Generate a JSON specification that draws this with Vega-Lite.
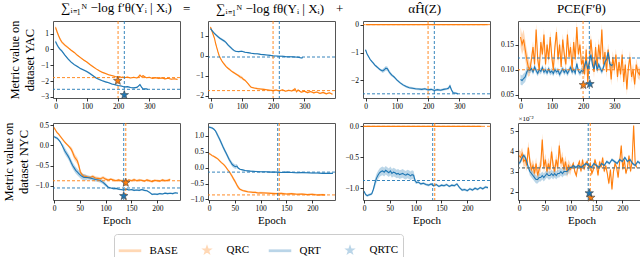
{
"$schema":"https://vega.github.io/schema/vega-lite/v6.json",
"background":"white",
"padding":{"left":2,"top":1,"right":0,"bottom":0},
"bounds":"flush",
"columns":4,
"spacing":{"row":25,"column":28},
"config":{
 "view":{"stroke":"#555","strokeWidth":1},
 "axis":{"labelFont":"Liberation Serif","labelFontSize":7.5,"labelColor":"#000","tickColor":"#000","tickSize":3,"tickWidth":0.8,"domain":false,"grid":false,"labelPadding":1.5,"labelOverlap":false,"labelBound":false,"titleFont":"Liberation Serif","titleFontWeight":"normal","titleColor":"#000"},
 "axisY":{"titleFontSize":12.5,"titlePadding":4,"titleFontWeight":"normal"},
 "axisX":{"titleFontSize":11,"titlePadding":2,"titleFontWeight":"normal"},
 "title":{"font":"Liberation Serif","fontSize":13,"fontWeight":"normal","color":"#000","offset":5,"frame":"group"}
},
"datasets":{
"d1":[
{"s":"BASE","e":0,"v":1.4,"l":1.26,"h":1.54},{"s":"BASE","e":5,"v":1.12,"l":1,"h":1.24},{"s":"BASE","e":10,"v":0.86,"l":0.74,"h":0.98},{"s":"BASE","e":15,"v":0.64,"l":0.54,"h":0.74},{"s":"BASE","e":20,"v":0.47,"l":0.37,"h":0.57},{"s":"BASE","e":30,"v":0.27,"l":0.2,"h":0.34},{"s":"BASE","e":40,"v":0.12,"l":0.06,"h":0.18},{"s":"BASE","e":50,"v":-0.05,"l":-0.1,"h":0},{"s":"BASE","e":60,"v":-0.19,"l":-0.24,"h":-0.14},{"s":"BASE","e":70,"v":-0.37,"l":-0.42,"h":-0.32},{"s":"BASE","e":80,"v":-0.52,"l":-0.57,"h":-0.47},{"s":"BASE","e":90,"v":-0.67,"l":-0.72,"h":-0.62},{"s":"BASE","e":100,"v":-0.79,"l":-0.83,"h":-0.75},{"s":"BASE","e":110,"v":-0.95,"l":-0.99,"h":-0.91},{"s":"BASE","e":120,"v":-1.09,"l":-1.13,"h":-1.05},{"s":"BASE","e":130,"v":-1.23,"l":-1.27,"h":-1.19},{"s":"BASE","e":140,"v":-1.35,"l":-1.39,"h":-1.31},{"s":"BASE","e":150,"v":-1.45,"l":-1.49,"h":-1.41},{"s":"BASE","e":160,"v":-1.52,"l":-1.56,"h":-1.48},{"s":"BASE","e":170,"v":-1.6,"l":-1.64,"h":-1.56},{"s":"BASE","e":180,"v":-1.65,"l":-1.69,"h":-1.61},{"s":"BASE","e":190,"v":-1.71,"l":-1.75,"h":-1.67},{"s":"BASE","e":200,"v":-1.75,"l":-1.79,"h":-1.71},{"s":"BASE","e":205,"v":-1.72,"l":-1.76,"h":-1.68},{"s":"BASE","e":210,"v":-1.77,"l":-1.81,"h":-1.73},{"s":"BASE","e":215,"v":-1.74,"l":-1.78,"h":-1.7},{"s":"BASE","e":220,"v":-1.79,"l":-1.83,"h":-1.75},{"s":"BASE","e":230,"v":-1.75,"l":-1.79,"h":-1.71},{"s":"BASE","e":240,"v":-1.8,"l":-1.84,"h":-1.76},{"s":"BASE","e":250,"v":-1.76,"l":-1.8,"h":-1.72},{"s":"BASE","e":260,"v":-1.8,"l":-1.84,"h":-1.76},{"s":"BASE","e":265,"v":-1.74,"l":-1.78,"h":-1.7},{"s":"BASE","e":270,"v":-1.62,"l":-1.68,"h":-1.56},{"s":"BASE","e":275,"v":-1.73,"l":-1.78,"h":-1.68},{"s":"BASE","e":280,"v":-1.66,"l":-1.71,"h":-1.61},{"s":"BASE","e":290,"v":-1.79,"l":-1.83,"h":-1.75},{"s":"BASE","e":300,"v":-1.76,"l":-1.8,"h":-1.72},{"s":"BASE","e":310,"v":-1.83,"l":-1.87,"h":-1.79},{"s":"BASE","e":320,"v":-1.78,"l":-1.82,"h":-1.74},{"s":"BASE","e":330,"v":-1.84,"l":-1.88,"h":-1.8},{"s":"BASE","e":340,"v":-1.8,"l":-1.84,"h":-1.76},{"s":"BASE","e":350,"v":-1.86,"l":-1.9,"h":-1.82},{"s":"BASE","e":360,"v":-1.82,"l":-1.86,"h":-1.78},{"s":"BASE","e":370,"v":-1.88,"l":-1.92,"h":-1.84},{"s":"BASE","e":380,"v":-1.85,"l":-1.89,"h":-1.81},{"s":"BASE","e":390,"v":-1.9,"l":-1.94,"h":-1.86},
{"s":"QRT","e":0,"v":0.5,"l":0.4,"h":0.6},{"s":"QRT","e":5,"v":0.3,"l":0.2,"h":0.4},{"s":"QRT","e":10,"v":0.13,"l":0.05,"h":0.21},{"s":"QRT","e":15,"v":0,"l":-0.08,"h":0.08},{"s":"QRT","e":20,"v":-0.09,"l":-0.16,"h":-0.02},{"s":"QRT","e":30,"v":-0.36,"l":-0.42,"h":-0.3},{"s":"QRT","e":40,"v":-0.6,"l":-0.66,"h":-0.54},{"s":"QRT","e":50,"v":-0.8,"l":-0.85,"h":-0.75},{"s":"QRT","e":60,"v":-0.96,"l":-1.01,"h":-0.91},{"s":"QRT","e":70,"v":-1.08,"l":-1.13,"h":-1.03},{"s":"QRT","e":80,"v":-1.21,"l":-1.26,"h":-1.16},{"s":"QRT","e":90,"v":-1.3,"l":-1.35,"h":-1.25},{"s":"QRT","e":100,"v":-1.4,"l":-1.46,"h":-1.34},{"s":"QRT","e":110,"v":-1.52,"l":-1.58,"h":-1.46},{"s":"QRT","e":120,"v":-1.66,"l":-1.71,"h":-1.61},{"s":"QRT","e":130,"v":-1.8,"l":-1.85,"h":-1.75},{"s":"QRT","e":140,"v":-1.9,"l":-1.94,"h":-1.86},{"s":"QRT","e":150,"v":-1.98,"l":-2.02,"h":-1.94},{"s":"QRT","e":160,"v":-2.05,"l":-2.09,"h":-2.01},{"s":"QRT","e":170,"v":-2.1,"l":-2.14,"h":-2.06},{"s":"QRT","e":180,"v":-2.18,"l":-2.22,"h":-2.14},{"s":"QRT","e":190,"v":-2.23,"l":-2.27,"h":-2.19},{"s":"QRT","e":200,"v":-2.28,"l":-2.32,"h":-2.24},{"s":"QRT","e":210,"v":-2.31,"l":-2.35,"h":-2.27},{"s":"QRT","e":220,"v":-2.37,"l":-2.41,"h":-2.33},{"s":"QRT","e":230,"v":-2.35,"l":-2.39,"h":-2.31},{"s":"QRT","e":240,"v":-2.41,"l":-2.45,"h":-2.37},{"s":"QRT","e":250,"v":-2.43,"l":-2.47,"h":-2.39},{"s":"QRT","e":260,"v":-2.4,"l":-2.44,"h":-2.36},{"s":"QRT","e":265,"v":-2.32,"l":-2.37,"h":-2.27},{"s":"QRT","e":270,"v":-2.22,"l":-2.28,"h":-2.16},{"s":"QRT","e":275,"v":-2.38,"l":-2.43,"h":-2.33},{"s":"QRT","e":280,"v":-2.5,"l":-2.54,"h":-2.46},{"s":"QRT","e":290,"v":-2.49,"l":-2.53,"h":-2.45},{"s":"QRT","e":295,"v":-2.53,"l":-2.57,"h":-2.49}
],
"d2":[
{"s":"BASE","e":0,"v":1.43,"l":1.37,"h":1.49},{"s":"BASE","e":3,"v":1.3,"l":1.24,"h":1.36},{"s":"BASE","e":6,"v":1.16,"l":1.1,"h":1.22},{"s":"BASE","e":10,"v":0.98,"l":0.92,"h":1.04},{"s":"BASE","e":13,"v":0.85,"l":0.79,"h":0.91},{"s":"BASE","e":16,"v":0.63,"l":0.57,"h":0.69},{"s":"BASE","e":20,"v":0.4,"l":0.34,"h":0.46},{"s":"BASE","e":24,"v":0.18,"l":0.12,"h":0.24},{"s":"BASE","e":28,"v":-0.02,"l":-0.08,"h":0.04},{"s":"BASE","e":32,"v":-0.15,"l":-0.21,"h":-0.09},{"s":"BASE","e":36,"v":-0.26,"l":-0.31,"h":-0.21},{"s":"BASE","e":40,"v":-0.35,"l":-0.4,"h":-0.3},{"s":"BASE","e":45,"v":-0.45,"l":-0.5,"h":-0.4},{"s":"BASE","e":50,"v":-0.55,"l":-0.6,"h":-0.5},{"s":"BASE","e":55,"v":-0.62,"l":-0.67,"h":-0.57},{"s":"BASE","e":60,"v":-0.68,"l":-0.73,"h":-0.63},{"s":"BASE","e":65,"v":-0.75,"l":-0.8,"h":-0.7},{"s":"BASE","e":70,"v":-0.81,"l":-0.86,"h":-0.76},{"s":"BASE","e":75,"v":-0.86,"l":-0.91,"h":-0.81},{"s":"BASE","e":80,"v":-0.91,"l":-0.96,"h":-0.86},{"s":"BASE","e":85,"v":-0.96,"l":-1.01,"h":-0.91},{"s":"BASE","e":90,"v":-1.01,"l":-1.07,"h":-0.95},{"s":"BASE","e":95,"v":-1.07,"l":-1.15,"h":-0.99},{"s":"BASE","e":100,"v":-1.1,"l":-1.18,"h":-1.02},{"s":"BASE","e":105,"v":-1.18,"l":-1.24,"h":-1.12},{"s":"BASE","e":110,"v":-1.23,"l":-1.28,"h":-1.18},{"s":"BASE","e":115,"v":-1.31,"l":-1.35,"h":-1.27},{"s":"BASE","e":120,"v":-1.4,"l":-1.44,"h":-1.36},{"s":"BASE","e":125,"v":-1.5,"l":-1.54,"h":-1.46},{"s":"BASE","e":130,"v":-1.58,"l":-1.62,"h":-1.54},{"s":"BASE","e":140,"v":-1.62,"l":-1.66,"h":-1.58},{"s":"BASE","e":150,"v":-1.65,"l":-1.69,"h":-1.61},{"s":"BASE","e":160,"v":-1.67,"l":-1.71,"h":-1.63},{"s":"BASE","e":170,"v":-1.69,"l":-1.73,"h":-1.65},{"s":"BASE","e":180,"v":-1.71,"l":-1.75,"h":-1.67},{"s":"BASE","e":190,"v":-1.73,"l":-1.77,"h":-1.69},{"s":"BASE","e":200,"v":-1.75,"l":-1.79,"h":-1.71},{"s":"BASE","e":210,"v":-1.72,"l":-1.76,"h":-1.68},{"s":"BASE","e":220,"v":-1.77,"l":-1.81,"h":-1.73},{"s":"BASE","e":230,"v":-1.71,"l":-1.75,"h":-1.67},{"s":"BASE","e":240,"v":-1.78,"l":-1.82,"h":-1.74},{"s":"BASE","e":250,"v":-1.73,"l":-1.77,"h":-1.69},{"s":"BASE","e":260,"v":-1.77,"l":-1.81,"h":-1.73},{"s":"BASE","e":270,"v":-1.66,"l":-1.72,"h":-1.6},{"s":"BASE","e":275,"v":-1.81,"l":-1.86,"h":-1.76},{"s":"BASE","e":280,"v":-1.72,"l":-1.76,"h":-1.68},{"s":"BASE","e":290,"v":-1.83,"l":-1.87,"h":-1.79},{"s":"BASE","e":300,"v":-1.78,"l":-1.82,"h":-1.74},{"s":"BASE","e":310,"v":-1.85,"l":-1.89,"h":-1.81},{"s":"BASE","e":320,"v":-1.8,"l":-1.84,"h":-1.76},{"s":"BASE","e":330,"v":-1.86,"l":-1.9,"h":-1.82},{"s":"BASE","e":340,"v":-1.82,"l":-1.86,"h":-1.78},{"s":"BASE","e":350,"v":-1.89,"l":-1.93,"h":-1.85},{"s":"BASE","e":360,"v":-1.84,"l":-1.88,"h":-1.8},{"s":"BASE","e":370,"v":-1.91,"l":-1.95,"h":-1.87},{"s":"BASE","e":380,"v":-1.86,"l":-1.9,"h":-1.82},{"s":"BASE","e":390,"v":-1.93,"l":-1.97,"h":-1.89},
{"s":"QRT","e":0,"v":1.35,"l":1.29,"h":1.41},{"s":"QRT","e":5,"v":1.25,"l":1.19,"h":1.31},{"s":"QRT","e":10,"v":1.15,"l":1.09,"h":1.21},{"s":"QRT","e":15,"v":1.07,"l":1.01,"h":1.13},{"s":"QRT","e":20,"v":1,"l":0.94,"h":1.06},{"s":"QRT","e":25,"v":0.93,"l":0.87,"h":0.99},{"s":"QRT","e":30,"v":0.87,"l":0.81,"h":0.93},{"s":"QRT","e":35,"v":0.82,"l":0.76,"h":0.88},{"s":"QRT","e":40,"v":0.77,"l":0.71,"h":0.83},{"s":"QRT","e":45,"v":0.72,"l":0.66,"h":0.78},{"s":"QRT","e":50,"v":0.65,"l":0.59,"h":0.71},{"s":"QRT","e":55,"v":0.55,"l":0.49,"h":0.61},{"s":"QRT","e":60,"v":0.47,"l":0.41,"h":0.53},{"s":"QRT","e":65,"v":0.4,"l":0.34,"h":0.46},{"s":"QRT","e":70,"v":0.32,"l":0.26,"h":0.38},{"s":"QRT","e":75,"v":0.26,"l":0.21,"h":0.31},{"s":"QRT","e":80,"v":0.22,"l":0.18,"h":0.26},{"s":"QRT","e":90,"v":0.2,"l":0.17,"h":0.23},{"s":"QRT","e":100,"v":0.22,"l":0.19,"h":0.25},{"s":"QRT","e":110,"v":0.17,"l":0.14,"h":0.2},{"s":"QRT","e":120,"v":0.15,"l":0.12,"h":0.18},{"s":"QRT","e":130,"v":0.12,"l":0.09,"h":0.15},{"s":"QRT","e":140,"v":0.1,"l":0.07,"h":0.13},{"s":"QRT","e":150,"v":0.09,"l":0.06,"h":0.12},{"s":"QRT","e":160,"v":0.06,"l":0.03,"h":0.09},{"s":"QRT","e":170,"v":0.05,"l":0.02,"h":0.08},{"s":"QRT","e":180,"v":0.03,"l":0,"h":0.06},{"s":"QRT","e":190,"v":0.01,"l":-0.02,"h":0.04},{"s":"QRT","e":200,"v":-0.01,"l":-0.04,"h":0.02},{"s":"QRT","e":210,"v":-0.02,"l":-0.05,"h":0.01},{"s":"QRT","e":220,"v":-0.03,"l":-0.06,"h":0},{"s":"QRT","e":230,"v":-0.03,"l":-0.06,"h":0},{"s":"QRT","e":240,"v":-0.05,"l":-0.08,"h":-0.02},{"s":"QRT","e":250,"v":-0.06,"l":-0.09,"h":-0.03},{"s":"QRT","e":260,"v":-0.06,"l":-0.09,"h":-0.03},{"s":"QRT","e":270,"v":-0.07,"l":-0.1,"h":-0.04},{"s":"QRT","e":280,"v":-0.08,"l":-0.11,"h":-0.05},{"s":"QRT","e":290,"v":-0.12,"l":-0.15,"h":-0.09},{"s":"QRT","e":295,"v":-0.1,"l":-0.13,"h":-0.07}
],
"d3":[
{"s":"BASE","e":0,"v":0,"l":0,"h":0},{"s":"BASE","e":390,"v":0,"l":0,"h":0},
{"s":"QRT","e":0,"v":-0.9,"l":-0.94,"h":-0.86},{"s":"QRT","e":5,"v":-1.05,"l":-1.09,"h":-1.01},{"s":"QRT","e":10,"v":-1.15,"l":-1.19,"h":-1.11},{"s":"QRT","e":15,"v":-1.25,"l":-1.29,"h":-1.21},{"s":"QRT","e":20,"v":-1.32,"l":-1.36,"h":-1.28},{"s":"QRT","e":25,"v":-1.38,"l":-1.42,"h":-1.34},{"s":"QRT","e":30,"v":-1.45,"l":-1.49,"h":-1.41},{"s":"QRT","e":35,"v":-1.5,"l":-1.54,"h":-1.46},{"s":"QRT","e":40,"v":-1.55,"l":-1.59,"h":-1.51},{"s":"QRT","e":45,"v":-1.6,"l":-1.64,"h":-1.56},{"s":"QRT","e":50,"v":-1.64,"l":-1.69,"h":-1.59},{"s":"QRT","e":55,"v":-1.66,"l":-1.73,"h":-1.59},{"s":"QRT","e":60,"v":-1.62,"l":-1.7,"h":-1.54},{"s":"QRT","e":65,"v":-1.56,"l":-1.64,"h":-1.48},{"s":"QRT","e":70,"v":-1.58,"l":-1.66,"h":-1.5},{"s":"QRT","e":75,"v":-1.68,"l":-1.75,"h":-1.61},{"s":"QRT","e":80,"v":-1.76,"l":-1.82,"h":-1.7},{"s":"QRT","e":85,"v":-1.82,"l":-1.87,"h":-1.77},{"s":"QRT","e":90,"v":-1.86,"l":-1.9,"h":-1.82},{"s":"QRT","e":95,"v":-1.92,"l":-1.96,"h":-1.88},{"s":"QRT","e":100,"v":-1.98,"l":-2.02,"h":-1.94},{"s":"QRT","e":110,"v":-2.08,"l":-2.12,"h":-2.04},{"s":"QRT","e":120,"v":-2.16,"l":-2.2,"h":-2.12},{"s":"QRT","e":130,"v":-2.22,"l":-2.26,"h":-2.18},{"s":"QRT","e":140,"v":-2.26,"l":-2.3,"h":-2.22},{"s":"QRT","e":150,"v":-2.28,"l":-2.32,"h":-2.24},{"s":"QRT","e":160,"v":-2.3,"l":-2.34,"h":-2.26},{"s":"QRT","e":170,"v":-2.31,"l":-2.35,"h":-2.27},{"s":"QRT","e":180,"v":-2.32,"l":-2.36,"h":-2.28},{"s":"QRT","e":190,"v":-2.3,"l":-2.34,"h":-2.26},{"s":"QRT","e":200,"v":-2.34,"l":-2.38,"h":-2.3},{"s":"QRT","e":210,"v":-2.32,"l":-2.36,"h":-2.28},{"s":"QRT","e":220,"v":-2.36,"l":-2.4,"h":-2.32},{"s":"QRT","e":230,"v":-2.33,"l":-2.37,"h":-2.29},{"s":"QRT","e":240,"v":-2.35,"l":-2.39,"h":-2.31},{"s":"QRT","e":250,"v":-2.32,"l":-2.36,"h":-2.28},{"s":"QRT","e":260,"v":-2.3,"l":-2.34,"h":-2.26},{"s":"QRT","e":265,"v":-2.28,"l":-2.33,"h":-2.23},{"s":"QRT","e":270,"v":-2.2,"l":-2.27,"h":-2.13},{"s":"QRT","e":275,"v":-2.34,"l":-2.39,"h":-2.29},{"s":"QRT","e":280,"v":-2.44,"l":-2.48,"h":-2.4},{"s":"QRT","e":290,"v":-2.46,"l":-2.5,"h":-2.42},{"s":"QRT","e":295,"v":-2.48,"l":-2.52,"h":-2.44}
],
"d4":[
{"s":"BASE","e":0,"v":0.165,"l":0.145,"h":0.185},{"s":"BASE","e":5,"v":0.15,"l":0.13,"h":0.17},{"s":"BASE","e":10,"v":0.16,"l":0.14,"h":0.18},{"s":"BASE","e":15,"v":0.14,"l":0.12,"h":0.16},{"s":"BASE","e":20,"v":0.12,"l":0.1,"h":0.14},{"s":"BASE","e":25,"v":0.105,"l":0.085,"h":0.125},{"s":"BASE","e":30,"v":0.1,"l":0.088,"h":0.112},{"s":"BASE","e":35,"v":0.12,"l":0.108,"h":0.132},{"s":"BASE","e":40,"v":0.145,"l":0.133,"h":0.157},{"s":"BASE","e":45,"v":0.11,"l":0.098,"h":0.122},{"s":"BASE","e":50,"v":0.18,"l":0.168,"h":0.192},{"s":"BASE","e":55,"v":0.12,"l":0.108,"h":0.132},{"s":"BASE","e":60,"v":0.1,"l":0.088,"h":0.112},{"s":"BASE","e":65,"v":0.155,"l":0.143,"h":0.167},{"s":"BASE","e":70,"v":0.13,"l":0.118,"h":0.142},{"s":"BASE","e":75,"v":0.17,"l":0.158,"h":0.182},{"s":"BASE","e":80,"v":0.11,"l":0.098,"h":0.122},{"s":"BASE","e":85,"v":0.15,"l":0.138,"h":0.162},{"s":"BASE","e":90,"v":0.12,"l":0.108,"h":0.132},{"s":"BASE","e":95,"v":0.165,"l":0.153,"h":0.177},{"s":"BASE","e":100,"v":0.125,"l":0.113,"h":0.137},{"s":"BASE","e":105,"v":0.1,"l":0.088,"h":0.112},{"s":"BASE","e":110,"v":0.145,"l":0.133,"h":0.157},{"s":"BASE","e":115,"v":0.175,"l":0.163,"h":0.187},{"s":"BASE","e":120,"v":0.12,"l":0.108,"h":0.132},{"s":"BASE","e":125,"v":0.15,"l":0.138,"h":0.162},{"s":"BASE","e":130,"v":0.105,"l":0.093,"h":0.117},{"s":"BASE","e":135,"v":0.16,"l":0.148,"h":0.172},{"s":"BASE","e":140,"v":0.13,"l":0.118,"h":0.142},{"s":"BASE","e":145,"v":0.11,"l":0.098,"h":0.122},{"s":"BASE","e":150,"v":0.17,"l":0.158,"h":0.182},{"s":"BASE","e":155,"v":0.125,"l":0.113,"h":0.137},{"s":"BASE","e":160,"v":0.145,"l":0.133,"h":0.157},{"s":"BASE","e":165,"v":0.1,"l":0.088,"h":0.112},{"s":"BASE","e":170,"v":0.155,"l":0.143,"h":0.167},{"s":"BASE","e":175,"v":0.12,"l":0.108,"h":0.132},{"s":"BASE","e":180,"v":0.185,"l":0.173,"h":0.197},{"s":"BASE","e":185,"v":0.13,"l":0.118,"h":0.142},{"s":"BASE","e":190,"v":0.15,"l":0.138,"h":0.162},{"s":"BASE","e":195,"v":0.11,"l":0.098,"h":0.122},{"s":"BASE","e":200,"v":0.12,"l":0.108,"h":0.132},{"s":"BASE","e":205,"v":0.09,"l":0.078,"h":0.102},{"s":"BASE","e":210,"v":0.14,"l":0.128,"h":0.152},{"s":"BASE","e":215,"v":0.075,"l":0.063,"h":0.087},{"s":"BASE","e":220,"v":0.115,"l":0.103,"h":0.127},{"s":"BASE","e":225,"v":0.16,"l":0.148,"h":0.172},{"s":"BASE","e":230,"v":0.125,"l":0.113,"h":0.137},{"s":"BASE","e":235,"v":0.095,"l":0.083,"h":0.107},{"s":"BASE","e":240,"v":0.145,"l":0.133,"h":0.157},{"s":"BASE","e":245,"v":0.105,"l":0.093,"h":0.117},{"s":"BASE","e":250,"v":0.15,"l":0.138,"h":0.162},{"s":"BASE","e":255,"v":0.12,"l":0.108,"h":0.132},{"s":"BASE","e":260,"v":0.18,"l":0.168,"h":0.192},{"s":"BASE","e":265,"v":0.11,"l":0.098,"h":0.122},{"s":"BASE","e":270,"v":0.135,"l":0.123,"h":0.147},{"s":"BASE","e":275,"v":0.095,"l":0.083,"h":0.107},{"s":"BASE","e":280,"v":0.14,"l":0.128,"h":0.152},{"s":"BASE","e":285,"v":0.115,"l":0.103,"h":0.127},{"s":"BASE","e":290,"v":0.08,"l":0.068,"h":0.092},{"s":"BASE","e":295,"v":0.125,"l":0.113,"h":0.137},{"s":"BASE","e":300,"v":0.1,"l":0.088,"h":0.112},{"s":"BASE","e":305,"v":0.13,"l":0.118,"h":0.142},{"s":"BASE","e":310,"v":0.085,"l":0.073,"h":0.097},{"s":"BASE","e":315,"v":0.115,"l":0.103,"h":0.127},{"s":"BASE","e":320,"v":0.09,"l":0.078,"h":0.102},{"s":"BASE","e":325,"v":0.13,"l":0.118,"h":0.142},{"s":"BASE","e":330,"v":0.075,"l":0.063,"h":0.087},{"s":"BASE","e":335,"v":0.11,"l":0.098,"h":0.122},{"s":"BASE","e":340,"v":0.06,"l":0.048,"h":0.072},{"s":"BASE","e":345,"v":0.105,"l":0.093,"h":0.117},{"s":"BASE","e":350,"v":0.125,"l":0.113,"h":0.137},{"s":"BASE","e":355,"v":0.085,"l":0.073,"h":0.097},{"s":"BASE","e":360,"v":0.1,"l":0.088,"h":0.112},{"s":"BASE","e":365,"v":0.07,"l":0.058,"h":0.082},{"s":"BASE","e":370,"v":0.11,"l":0.098,"h":0.122},{"s":"BASE","e":375,"v":0.095,"l":0.083,"h":0.107},{"s":"BASE","e":380,"v":0.09,"l":0.078,"h":0.102},{"s":"BASE","e":385,"v":0.105,"l":0.093,"h":0.117},{"s":"BASE","e":390,"v":0.095,"l":0.083,"h":0.107},
{"s":"QRT","e":0,"v":0.08,"l":0.07,"h":0.09},{"s":"QRT","e":5,"v":0.078,"l":0.068,"h":0.088},{"s":"QRT","e":10,"v":0.082,"l":0.072,"h":0.092},{"s":"QRT","e":15,"v":0.085,"l":0.075,"h":0.095},{"s":"QRT","e":20,"v":0.095,"l":0.085,"h":0.105},{"s":"QRT","e":25,"v":0.1,"l":0.094,"h":0.106},{"s":"QRT","e":30,"v":0.098,"l":0.092,"h":0.104},{"s":"QRT","e":35,"v":0.102,"l":0.096,"h":0.108},{"s":"QRT","e":40,"v":0.095,"l":0.089,"h":0.101},{"s":"QRT","e":45,"v":0.105,"l":0.099,"h":0.111},{"s":"QRT","e":50,"v":0.098,"l":0.092,"h":0.104},{"s":"QRT","e":55,"v":0.092,"l":0.086,"h":0.098},{"s":"QRT","e":60,"v":0.1,"l":0.094,"h":0.106},{"s":"QRT","e":65,"v":0.096,"l":0.09,"h":0.102},{"s":"QRT","e":70,"v":0.104,"l":0.098,"h":0.11},{"s":"QRT","e":75,"v":0.095,"l":0.089,"h":0.101},{"s":"QRT","e":80,"v":0.099,"l":0.093,"h":0.105},{"s":"QRT","e":85,"v":0.093,"l":0.087,"h":0.099},{"s":"QRT","e":90,"v":0.101,"l":0.095,"h":0.107},{"s":"QRT","e":95,"v":0.094,"l":0.088,"h":0.1},{"s":"QRT","e":100,"v":0.097,"l":0.091,"h":0.103},{"s":"QRT","e":105,"v":0.092,"l":0.086,"h":0.098},{"s":"QRT","e":110,"v":0.1,"l":0.094,"h":0.106},{"s":"QRT","e":115,"v":0.095,"l":0.089,"h":0.101},{"s":"QRT","e":120,"v":0.098,"l":0.092,"h":0.104},{"s":"QRT","e":125,"v":0.09,"l":0.084,"h":0.096},{"s":"QRT","e":130,"v":0.096,"l":0.09,"h":0.102},{"s":"QRT","e":135,"v":0.101,"l":0.095,"h":0.107},{"s":"QRT","e":140,"v":0.094,"l":0.088,"h":0.1},{"s":"QRT","e":145,"v":0.099,"l":0.093,"h":0.105},{"s":"QRT","e":150,"v":0.092,"l":0.086,"h":0.098},{"s":"QRT","e":155,"v":0.098,"l":0.092,"h":0.104},{"s":"QRT","e":160,"v":0.104,"l":0.098,"h":0.11},{"s":"QRT","e":165,"v":0.095,"l":0.089,"h":0.101},{"s":"QRT","e":170,"v":0.1,"l":0.094,"h":0.106},{"s":"QRT","e":175,"v":0.093,"l":0.087,"h":0.099},{"s":"QRT","e":180,"v":0.112,"l":0.106,"h":0.118},{"s":"QRT","e":185,"v":0.097,"l":0.091,"h":0.103},{"s":"QRT","e":190,"v":0.093,"l":0.087,"h":0.099},{"s":"QRT","e":195,"v":0.098,"l":0.092,"h":0.104},{"s":"QRT","e":200,"v":0.095,"l":0.089,"h":0.101},{"s":"QRT","e":205,"v":0.108,"l":0.102,"h":0.114},{"s":"QRT","e":210,"v":0.118,"l":0.112,"h":0.124},{"s":"QRT","e":215,"v":0.1,"l":0.094,"h":0.106},{"s":"QRT","e":220,"v":0.113,"l":0.107,"h":0.119},{"s":"QRT","e":225,"v":0.13,"l":0.124,"h":0.136},{"s":"QRT","e":230,"v":0.11,"l":0.104,"h":0.116},{"s":"QRT","e":235,"v":0.1,"l":0.094,"h":0.106},{"s":"QRT","e":240,"v":0.118,"l":0.112,"h":0.124},{"s":"QRT","e":245,"v":0.098,"l":0.092,"h":0.104},{"s":"QRT","e":250,"v":0.11,"l":0.104,"h":0.116},{"s":"QRT","e":255,"v":0.102,"l":0.096,"h":0.108},{"s":"QRT","e":260,"v":0.096,"l":0.09,"h":0.102},{"s":"QRT","e":265,"v":0.104,"l":0.098,"h":0.11},{"s":"QRT","e":270,"v":0.115,"l":0.109,"h":0.121},{"s":"QRT","e":275,"v":0.12,"l":0.114,"h":0.126},{"s":"QRT","e":280,"v":0.135,"l":0.129,"h":0.141},{"s":"QRT","e":285,"v":0.112,"l":0.106,"h":0.118},{"s":"QRT","e":290,"v":0.108,"l":0.102,"h":0.114},{"s":"QRT","e":295,"v":0.11,"l":0.104,"h":0.116}
],
"d5":[
{"s":"BASE","e":0,"v":0.45,"l":0.42,"h":0.48},{"s":"BASE","e":3,"v":0.38,"l":0.35,"h":0.41},{"s":"BASE","e":6,"v":0.32,"l":0.29,"h":0.35},{"s":"BASE","e":9,"v":0.28,"l":0.25,"h":0.31},{"s":"BASE","e":12,"v":0.23,"l":0.2,"h":0.26},{"s":"BASE","e":15,"v":0.18,"l":0.15,"h":0.21},{"s":"BASE","e":18,"v":0.13,"l":0.1,"h":0.16},{"s":"BASE","e":21,"v":0.08,"l":0.05,"h":0.11},{"s":"BASE","e":24,"v":0.04,"l":0.01,"h":0.07},{"s":"BASE","e":27,"v":0,"l":-0.03,"h":0.03},{"s":"BASE","e":30,"v":-0.04,"l":-0.07,"h":-0.01},{"s":"BASE","e":33,"v":-0.09,"l":-0.15,"h":-0.03},{"s":"BASE","e":36,"v":-0.17,"l":-0.25,"h":-0.09},{"s":"BASE","e":39,"v":-0.27,"l":-0.35,"h":-0.19},{"s":"BASE","e":42,"v":-0.33,"l":-0.41,"h":-0.25},{"s":"BASE","e":45,"v":-0.38,"l":-0.46,"h":-0.3},{"s":"BASE","e":48,"v":-0.5,"l":-0.58,"h":-0.42},{"s":"BASE","e":51,"v":-0.66,"l":-0.72,"h":-0.6},{"s":"BASE","e":54,"v":-0.72,"l":-0.76,"h":-0.68},{"s":"BASE","e":57,"v":-0.76,"l":-0.8,"h":-0.72},{"s":"BASE","e":60,"v":-0.77,"l":-0.81,"h":-0.73},{"s":"BASE","e":65,"v":-0.79,"l":-0.83,"h":-0.75},{"s":"BASE","e":70,"v":-0.8,"l":-0.84,"h":-0.76},{"s":"BASE","e":75,"v":-0.77,"l":-0.81,"h":-0.73},{"s":"BASE","e":80,"v":-0.81,"l":-0.85,"h":-0.77},{"s":"BASE","e":85,"v":-0.82,"l":-0.86,"h":-0.78},{"s":"BASE","e":90,"v":-0.83,"l":-0.87,"h":-0.79},{"s":"BASE","e":95,"v":-0.8,"l":-0.84,"h":-0.76},{"s":"BASE","e":100,"v":-0.84,"l":-0.88,"h":-0.8},{"s":"BASE","e":105,"v":-0.86,"l":-0.89,"h":-0.83},{"s":"BASE","e":110,"v":-0.84,"l":-0.87,"h":-0.81},{"s":"BASE","e":115,"v":-0.86,"l":-0.89,"h":-0.83},{"s":"BASE","e":120,"v":-0.88,"l":-0.91,"h":-0.85},{"s":"BASE","e":125,"v":-0.86,"l":-0.89,"h":-0.83},{"s":"BASE","e":130,"v":-0.88,"l":-0.91,"h":-0.85},{"s":"BASE","e":135,"v":-0.87,"l":-0.9,"h":-0.84},{"s":"BASE","e":140,"v":-0.9,"l":-0.93,"h":-0.87},{"s":"BASE","e":145,"v":-0.86,"l":-0.89,"h":-0.83},{"s":"BASE","e":150,"v":-0.88,"l":-0.91,"h":-0.85},{"s":"BASE","e":155,"v":-0.85,"l":-0.88,"h":-0.82},{"s":"BASE","e":160,"v":-0.88,"l":-0.91,"h":-0.85},{"s":"BASE","e":165,"v":-0.86,"l":-0.89,"h":-0.83},{"s":"BASE","e":170,"v":-0.87,"l":-0.9,"h":-0.84},{"s":"BASE","e":175,"v":-0.89,"l":-0.92,"h":-0.86},{"s":"BASE","e":180,"v":-0.86,"l":-0.89,"h":-0.83},{"s":"BASE","e":185,"v":-0.88,"l":-0.91,"h":-0.85},{"s":"BASE","e":190,"v":-0.9,"l":-0.93,"h":-0.87},{"s":"BASE","e":195,"v":-0.87,"l":-0.9,"h":-0.84},{"s":"BASE","e":200,"v":-0.88,"l":-0.91,"h":-0.85},{"s":"BASE","e":205,"v":-0.89,"l":-0.92,"h":-0.86},{"s":"BASE","e":210,"v":-0.86,"l":-0.89,"h":-0.83},{"s":"BASE","e":215,"v":-0.88,"l":-0.91,"h":-0.85},{"s":"BASE","e":220,"v":-0.87,"l":-0.9,"h":-0.84},{"s":"BASE","e":225,"v":-0.85,"l":-0.88,"h":-0.82},
{"s":"QRT","e":0,"v":0.22,"l":0.19,"h":0.25},{"s":"QRT","e":3,"v":0.2,"l":0.17,"h":0.23},{"s":"QRT","e":6,"v":0.18,"l":0.15,"h":0.21},{"s":"QRT","e":9,"v":0.14,"l":0.11,"h":0.17},{"s":"QRT","e":12,"v":0.09,"l":0.06,"h":0.12},{"s":"QRT","e":15,"v":0.02,"l":-0.01,"h":0.05},{"s":"QRT","e":18,"v":-0.06,"l":-0.14,"h":0.02},{"s":"QRT","e":21,"v":-0.14,"l":-0.22,"h":-0.06},{"s":"QRT","e":24,"v":-0.2,"l":-0.28,"h":-0.12},{"s":"QRT","e":27,"v":-0.26,"l":-0.34,"h":-0.18},{"s":"QRT","e":30,"v":-0.33,"l":-0.41,"h":-0.25},{"s":"QRT","e":33,"v":-0.42,"l":-0.5,"h":-0.34},{"s":"QRT","e":36,"v":-0.5,"l":-0.58,"h":-0.42},{"s":"QRT","e":39,"v":-0.56,"l":-0.64,"h":-0.48},{"s":"QRT","e":42,"v":-0.62,"l":-0.7,"h":-0.54},{"s":"QRT","e":45,"v":-0.66,"l":-0.74,"h":-0.58},{"s":"QRT","e":48,"v":-0.7,"l":-0.78,"h":-0.62},{"s":"QRT","e":51,"v":-0.74,"l":-0.82,"h":-0.66},{"s":"QRT","e":54,"v":-0.77,"l":-0.85,"h":-0.69},{"s":"QRT","e":57,"v":-0.79,"l":-0.87,"h":-0.71},{"s":"QRT","e":60,"v":-0.8,"l":-0.88,"h":-0.72},{"s":"QRT","e":65,"v":-0.8,"l":-0.85,"h":-0.75},{"s":"QRT","e":70,"v":-0.81,"l":-0.86,"h":-0.76},{"s":"QRT","e":75,"v":-0.83,"l":-0.88,"h":-0.78},{"s":"QRT","e":80,"v":-0.85,"l":-0.9,"h":-0.8},{"s":"QRT","e":85,"v":-0.86,"l":-0.91,"h":-0.81},{"s":"QRT","e":90,"v":-0.88,"l":-0.93,"h":-0.83},{"s":"QRT","e":95,"v":-0.92,"l":-0.97,"h":-0.87},{"s":"QRT","e":100,"v":-0.98,"l":-1.03,"h":-0.93},{"s":"QRT","e":105,"v":-1.04,"l":-1.06,"h":-1.02},{"s":"QRT","e":110,"v":-1.06,"l":-1.08,"h":-1.04},{"s":"QRT","e":115,"v":-1.08,"l":-1.1,"h":-1.06},{"s":"QRT","e":120,"v":-1.07,"l":-1.09,"h":-1.05},{"s":"QRT","e":125,"v":-1.09,"l":-1.11,"h":-1.07},{"s":"QRT","e":130,"v":-1.1,"l":-1.12,"h":-1.08},{"s":"QRT","e":135,"v":-1.11,"l":-1.13,"h":-1.09},{"s":"QRT","e":140,"v":-1.09,"l":-1.11,"h":-1.07},{"s":"QRT","e":145,"v":-1.11,"l":-1.13,"h":-1.09},{"s":"QRT","e":150,"v":-1.1,"l":-1.12,"h":-1.08},{"s":"QRT","e":155,"v":-1.12,"l":-1.14,"h":-1.1},{"s":"QRT","e":160,"v":-1.11,"l":-1.13,"h":-1.09},{"s":"QRT","e":165,"v":-1.12,"l":-1.14,"h":-1.1},{"s":"QRT","e":170,"v":-1.1,"l":-1.12,"h":-1.08},{"s":"QRT","e":175,"v":-1.12,"l":-1.14,"h":-1.1},{"s":"QRT","e":180,"v":-1.13,"l":-1.15,"h":-1.11},{"s":"QRT","e":185,"v":-1.17,"l":-1.19,"h":-1.15},{"s":"QRT","e":190,"v":-1.22,"l":-1.24,"h":-1.2},{"s":"QRT","e":195,"v":-1.21,"l":-1.23,"h":-1.19},{"s":"QRT","e":200,"v":-1.22,"l":-1.24,"h":-1.2},{"s":"QRT","e":205,"v":-1.2,"l":-1.22,"h":-1.18},{"s":"QRT","e":210,"v":-1.21,"l":-1.23,"h":-1.19},{"s":"QRT","e":215,"v":-1.19,"l":-1.21,"h":-1.17},{"s":"QRT","e":220,"v":-1.2,"l":-1.22,"h":-1.18},{"s":"QRT","e":225,"v":-1.19,"l":-1.21,"h":-1.17},{"s":"QRT","e":230,"v":-1.2,"l":-1.22,"h":-1.18},{"s":"QRT","e":235,"v":-1.18,"l":-1.2,"h":-1.16},{"s":"QRT","e":240,"v":-1.19,"l":-1.21,"h":-1.17}
],
"d6":[
{"s":"BASE","e":0,"v":0.45,"l":0.42,"h":0.48},{"s":"BASE","e":3,"v":0.42,"l":0.39,"h":0.45},{"s":"BASE","e":6,"v":0.38,"l":0.35,"h":0.41},{"s":"BASE","e":9,"v":0.36,"l":0.33,"h":0.39},{"s":"BASE","e":12,"v":0.33,"l":0.3,"h":0.36},{"s":"BASE","e":15,"v":0.3,"l":0.27,"h":0.33},{"s":"BASE","e":18,"v":0.26,"l":0.23,"h":0.29},{"s":"BASE","e":21,"v":0.21,"l":0.18,"h":0.24},{"s":"BASE","e":24,"v":0.16,"l":0.13,"h":0.19},{"s":"BASE","e":27,"v":0.12,"l":0.09,"h":0.15},{"s":"BASE","e":30,"v":0.07,"l":0.04,"h":0.1},{"s":"BASE","e":33,"v":0.01,"l":-0.02,"h":0.04},{"s":"BASE","e":36,"v":-0.06,"l":-0.09,"h":-0.03},{"s":"BASE","e":39,"v":-0.12,"l":-0.15,"h":-0.09},{"s":"BASE","e":42,"v":-0.2,"l":-0.26,"h":-0.14},{"s":"BASE","e":45,"v":-0.28,"l":-0.34,"h":-0.22},{"s":"BASE","e":48,"v":-0.37,"l":-0.43,"h":-0.31},{"s":"BASE","e":51,"v":-0.45,"l":-0.51,"h":-0.39},{"s":"BASE","e":54,"v":-0.55,"l":-0.61,"h":-0.49},{"s":"BASE","e":57,"v":-0.63,"l":-0.69,"h":-0.57},{"s":"BASE","e":60,"v":-0.68,"l":-0.71,"h":-0.65},{"s":"BASE","e":65,"v":-0.72,"l":-0.75,"h":-0.69},{"s":"BASE","e":70,"v":-0.74,"l":-0.77,"h":-0.71},{"s":"BASE","e":75,"v":-0.76,"l":-0.79,"h":-0.73},{"s":"BASE","e":80,"v":-0.77,"l":-0.8,"h":-0.74},{"s":"BASE","e":85,"v":-0.78,"l":-0.81,"h":-0.75},{"s":"BASE","e":90,"v":-0.78,"l":-0.81,"h":-0.75},{"s":"BASE","e":95,"v":-0.8,"l":-0.83,"h":-0.77},{"s":"BASE","e":100,"v":-0.79,"l":-0.82,"h":-0.76},{"s":"BASE","e":110,"v":-0.8,"l":-0.83,"h":-0.77},{"s":"BASE","e":120,"v":-0.81,"l":-0.84,"h":-0.78},{"s":"BASE","e":130,"v":-0.82,"l":-0.85,"h":-0.79},{"s":"BASE","e":140,"v":-0.81,"l":-0.84,"h":-0.78},{"s":"BASE","e":150,"v":-0.83,"l":-0.86,"h":-0.8},{"s":"BASE","e":160,"v":-0.82,"l":-0.85,"h":-0.79},{"s":"BASE","e":170,"v":-0.84,"l":-0.87,"h":-0.81},{"s":"BASE","e":180,"v":-0.83,"l":-0.86,"h":-0.8},{"s":"BASE","e":190,"v":-0.85,"l":-0.88,"h":-0.82},{"s":"BASE","e":200,"v":-0.84,"l":-0.87,"h":-0.81},{"s":"BASE","e":210,"v":-0.86,"l":-0.89,"h":-0.83},{"s":"BASE","e":220,"v":-0.85,"l":-0.88,"h":-0.82},{"s":"BASE","e":225,"v":-0.86,"l":-0.89,"h":-0.83},
{"s":"QRT","e":0,"v":1.28,"l":1.25,"h":1.31},{"s":"QRT","e":3,"v":1.27,"l":1.24,"h":1.3},{"s":"QRT","e":6,"v":1.25,"l":1.22,"h":1.28},{"s":"QRT","e":9,"v":1.22,"l":1.19,"h":1.25},{"s":"QRT","e":12,"v":1.17,"l":1.14,"h":1.2},{"s":"QRT","e":15,"v":1.08,"l":1.01,"h":1.15},{"s":"QRT","e":18,"v":0.98,"l":0.91,"h":1.05},{"s":"QRT","e":21,"v":0.88,"l":0.81,"h":0.95},{"s":"QRT","e":24,"v":0.77,"l":0.7,"h":0.84},{"s":"QRT","e":27,"v":0.66,"l":0.59,"h":0.73},{"s":"QRT","e":30,"v":0.56,"l":0.49,"h":0.63},{"s":"QRT","e":33,"v":0.46,"l":0.39,"h":0.53},{"s":"QRT","e":36,"v":0.36,"l":0.29,"h":0.43},{"s":"QRT","e":39,"v":0.26,"l":0.19,"h":0.33},{"s":"QRT","e":42,"v":0.18,"l":0.11,"h":0.25},{"s":"QRT","e":45,"v":0.1,"l":0.03,"h":0.17},{"s":"QRT","e":48,"v":0.06,"l":-0.01,"h":0.13},{"s":"QRT","e":51,"v":0.03,"l":-0.04,"h":0.1},{"s":"QRT","e":54,"v":0.05,"l":-0.02,"h":0.12},{"s":"QRT","e":57,"v":-0.02,"l":-0.04,"h":0},{"s":"QRT","e":60,"v":-0.05,"l":-0.07,"h":-0.03},{"s":"QRT","e":65,"v":-0.07,"l":-0.09,"h":-0.05},{"s":"QRT","e":70,"v":-0.09,"l":-0.11,"h":-0.07},{"s":"QRT","e":75,"v":-0.1,"l":-0.12,"h":-0.08},{"s":"QRT","e":80,"v":-0.11,"l":-0.13,"h":-0.09},{"s":"QRT","e":90,"v":-0.12,"l":-0.14,"h":-0.1},{"s":"QRT","e":100,"v":-0.13,"l":-0.15,"h":-0.11},{"s":"QRT","e":110,"v":-0.13,"l":-0.15,"h":-0.11},{"s":"QRT","e":120,"v":-0.14,"l":-0.16,"h":-0.12},{"s":"QRT","e":130,"v":-0.14,"l":-0.16,"h":-0.12},{"s":"QRT","e":140,"v":-0.15,"l":-0.17,"h":-0.13},{"s":"QRT","e":150,"v":-0.14,"l":-0.16,"h":-0.12},{"s":"QRT","e":160,"v":-0.15,"l":-0.17,"h":-0.13},{"s":"QRT","e":170,"v":-0.16,"l":-0.18,"h":-0.14},{"s":"QRT","e":180,"v":-0.15,"l":-0.17,"h":-0.13},{"s":"QRT","e":190,"v":-0.16,"l":-0.18,"h":-0.14},{"s":"QRT","e":200,"v":-0.17,"l":-0.19,"h":-0.15},{"s":"QRT","e":210,"v":-0.17,"l":-0.19,"h":-0.15},{"s":"QRT","e":220,"v":-0.18,"l":-0.2,"h":-0.16},{"s":"QRT","e":230,"v":-0.18,"l":-0.2,"h":-0.16},{"s":"QRT","e":240,"v":-0.18,"l":-0.2,"h":-0.16}
],
"d7":[
{"s":"BASE","e":0,"v":0,"l":0,"h":0},{"s":"BASE","e":228,"v":0,"l":0,"h":0},
{"s":"QRT","e":0,"v":-1.05,"l":-1.07,"h":-1.03},{"s":"QRT","e":3,"v":-1.1,"l":-1.12,"h":-1.08},{"s":"QRT","e":6,"v":-1.12,"l":-1.14,"h":-1.1},{"s":"QRT","e":9,"v":-1.11,"l":-1.13,"h":-1.09},{"s":"QRT","e":12,"v":-1.1,"l":-1.12,"h":-1.08},{"s":"QRT","e":15,"v":-1.09,"l":-1.11,"h":-1.07},{"s":"QRT","e":18,"v":-1.02,"l":-1.05,"h":-0.99},{"s":"QRT","e":21,"v":-0.92,"l":-0.99,"h":-0.85},{"s":"QRT","e":24,"v":-0.84,"l":-0.91,"h":-0.77},{"s":"QRT","e":27,"v":-0.79,"l":-0.86,"h":-0.72},{"s":"QRT","e":30,"v":-0.75,"l":-0.82,"h":-0.68},{"s":"QRT","e":33,"v":-0.73,"l":-0.8,"h":-0.66},{"s":"QRT","e":36,"v":-0.72,"l":-0.79,"h":-0.65},{"s":"QRT","e":39,"v":-0.74,"l":-0.81,"h":-0.67},{"s":"QRT","e":42,"v":-0.71,"l":-0.78,"h":-0.64},{"s":"QRT","e":45,"v":-0.73,"l":-0.8,"h":-0.66},{"s":"QRT","e":48,"v":-0.75,"l":-0.82,"h":-0.68},{"s":"QRT","e":51,"v":-0.72,"l":-0.79,"h":-0.65},{"s":"QRT","e":54,"v":-0.76,"l":-0.83,"h":-0.69},{"s":"QRT","e":57,"v":-0.74,"l":-0.81,"h":-0.67},{"s":"QRT","e":60,"v":-0.75,"l":-0.82,"h":-0.68},{"s":"QRT","e":63,"v":-0.77,"l":-0.84,"h":-0.7},{"s":"QRT","e":66,"v":-0.76,"l":-0.83,"h":-0.69},{"s":"QRT","e":69,"v":-0.78,"l":-0.85,"h":-0.71},{"s":"QRT","e":72,"v":-0.77,"l":-0.84,"h":-0.7},{"s":"QRT","e":75,"v":-0.76,"l":-0.83,"h":-0.69},{"s":"QRT","e":78,"v":-0.78,"l":-0.85,"h":-0.71},{"s":"QRT","e":81,"v":-0.79,"l":-0.86,"h":-0.72},{"s":"QRT","e":84,"v":-0.77,"l":-0.84,"h":-0.7},{"s":"QRT","e":87,"v":-0.78,"l":-0.85,"h":-0.71},{"s":"QRT","e":90,"v":-0.8,"l":-0.87,"h":-0.73},{"s":"QRT","e":93,"v":-0.78,"l":-0.85,"h":-0.71},{"s":"QRT","e":96,"v":-0.79,"l":-0.86,"h":-0.72},{"s":"QRT","e":99,"v":-0.88,"l":-0.92,"h":-0.84},{"s":"QRT","e":102,"v":-0.91,"l":-0.93,"h":-0.89},{"s":"QRT","e":105,"v":-0.9,"l":-0.92,"h":-0.88},{"s":"QRT","e":110,"v":-0.93,"l":-0.95,"h":-0.91},{"s":"QRT","e":115,"v":-0.92,"l":-0.94,"h":-0.9},{"s":"QRT","e":120,"v":-0.94,"l":-0.96,"h":-0.92},{"s":"QRT","e":125,"v":-0.95,"l":-0.97,"h":-0.93},{"s":"QRT","e":130,"v":-0.93,"l":-0.95,"h":-0.91},{"s":"QRT","e":135,"v":-0.96,"l":-0.98,"h":-0.94},{"s":"QRT","e":140,"v":-0.94,"l":-0.96,"h":-0.92},{"s":"QRT","e":145,"v":-0.97,"l":-0.99,"h":-0.95},{"s":"QRT","e":150,"v":-0.95,"l":-0.97,"h":-0.93},{"s":"QRT","e":155,"v":-0.96,"l":-0.98,"h":-0.94},{"s":"QRT","e":160,"v":-0.94,"l":-0.96,"h":-0.92},{"s":"QRT","e":165,"v":-0.97,"l":-0.99,"h":-0.95},{"s":"QRT","e":170,"v":-0.95,"l":-0.97,"h":-0.93},{"s":"QRT","e":175,"v":-0.96,"l":-0.98,"h":-0.94},{"s":"QRT","e":180,"v":-0.93,"l":-0.95,"h":-0.91},{"s":"QRT","e":185,"v":-0.99,"l":-1.01,"h":-0.97},{"s":"QRT","e":190,"v":-1.03,"l":-1.05,"h":-1.01},{"s":"QRT","e":195,"v":-1.02,"l":-1.04,"h":-1},{"s":"QRT","e":200,"v":-1.04,"l":-1.06,"h":-1.02},{"s":"QRT","e":205,"v":-1.01,"l":-1.03,"h":-0.99},{"s":"QRT","e":210,"v":-1.03,"l":-1.05,"h":-1.01},{"s":"QRT","e":215,"v":-1,"l":-1.02,"h":-0.98},{"s":"QRT","e":220,"v":-1.02,"l":-1.04,"h":-1},{"s":"QRT","e":225,"v":-0.99,"l":-1.01,"h":-0.97},{"s":"QRT","e":230,"v":-1.01,"l":-1.03,"h":-0.99},{"s":"QRT","e":235,"v":-0.98,"l":-1,"h":-0.96},{"s":"QRT","e":240,"v":-0.99,"l":-1.01,"h":-0.97}
],
"d8":[
{"s":"BASE","e":0,"v":3.8,"l":3.5,"h":4.1},{"s":"BASE","e":3,"v":3.7,"l":3.4,"h":4},{"s":"BASE","e":6,"v":3.9,"l":3.6,"h":4.2},{"s":"BASE","e":9,"v":3.5,"l":3.2,"h":3.8},{"s":"BASE","e":12,"v":3.6,"l":3.3,"h":3.9},{"s":"BASE","e":15,"v":3.3,"l":3,"h":3.6},{"s":"BASE","e":18,"v":4.2,"l":3.9,"h":4.5},{"s":"BASE","e":21,"v":3.5,"l":3.2,"h":3.8},{"s":"BASE","e":24,"v":3.1,"l":2.8,"h":3.4},{"s":"BASE","e":27,"v":3.3,"l":3,"h":3.6},{"s":"BASE","e":30,"v":2.9,"l":2.6,"h":3.2},{"s":"BASE","e":33,"v":3.4,"l":3.1,"h":3.7},{"s":"BASE","e":36,"v":2.8,"l":2.5,"h":3.1},{"s":"BASE","e":39,"v":3.1,"l":2.8,"h":3.4},{"s":"BASE","e":42,"v":3.3,"l":3,"h":3.6},{"s":"BASE","e":45,"v":4.6,"l":4.3,"h":4.9},{"s":"BASE","e":48,"v":3.2,"l":2.9,"h":3.5},{"s":"BASE","e":51,"v":3.6,"l":3.3,"h":3.9},{"s":"BASE","e":54,"v":3,"l":2.7,"h":3.3},{"s":"BASE","e":57,"v":3.4,"l":3.1,"h":3.7},{"s":"BASE","e":60,"v":3.1,"l":2.8,"h":3.4},{"s":"BASE","e":63,"v":4,"l":3.7,"h":4.3},{"s":"BASE","e":66,"v":3.3,"l":3,"h":3.6},{"s":"BASE","e":69,"v":3,"l":2.7,"h":3.3},{"s":"BASE","e":72,"v":3.6,"l":3.3,"h":3.9},{"s":"BASE","e":75,"v":3.2,"l":2.9,"h":3.5},{"s":"BASE","e":78,"v":4.3,"l":4,"h":4.6},{"s":"BASE","e":81,"v":3.4,"l":3.1,"h":3.7},{"s":"BASE","e":84,"v":3.7,"l":3.4,"h":4},{"s":"BASE","e":87,"v":3.1,"l":2.8,"h":3.4},{"s":"BASE","e":90,"v":3.5,"l":3.2,"h":3.8},{"s":"BASE","e":93,"v":3,"l":2.7,"h":3.3},{"s":"BASE","e":96,"v":3.3,"l":3,"h":3.6},{"s":"BASE","e":99,"v":3.1,"l":2.8,"h":3.4},{"s":"BASE","e":102,"v":3.2,"l":3.1,"h":3.3},{"s":"BASE","e":105,"v":3.4,"l":3.3,"h":3.5},{"s":"BASE","e":108,"v":3,"l":2.9,"h":3.1},{"s":"BASE","e":111,"v":2.8,"l":2.7,"h":2.9},{"s":"BASE","e":114,"v":3.3,"l":3.2,"h":3.4},{"s":"BASE","e":117,"v":3.5,"l":3.4,"h":3.6},{"s":"BASE","e":120,"v":3,"l":2.9,"h":3.1},{"s":"BASE","e":123,"v":3.6,"l":3.5,"h":3.7},{"s":"BASE","e":126,"v":3.1,"l":3,"h":3.2},{"s":"BASE","e":129,"v":3.4,"l":3.3,"h":3.5},{"s":"BASE","e":132,"v":3.5,"l":3.4,"h":3.6},{"s":"BASE","e":135,"v":3.2,"l":3.1,"h":3.3},{"s":"BASE","e":138,"v":3.4,"l":3.3,"h":3.5},{"s":"BASE","e":141,"v":2.9,"l":2.8,"h":3},{"s":"BASE","e":144,"v":3.1,"l":3,"h":3.2},{"s":"BASE","e":147,"v":3.6,"l":3.5,"h":3.7},{"s":"BASE","e":150,"v":3.3,"l":3.2,"h":3.4},{"s":"BASE","e":153,"v":2.8,"l":2.7,"h":2.9},{"s":"BASE","e":156,"v":3.5,"l":3.4,"h":3.6},{"s":"BASE","e":159,"v":3.2,"l":3.1,"h":3.3},{"s":"BASE","e":162,"v":3.7,"l":3.6,"h":3.8},{"s":"BASE","e":165,"v":3,"l":2.9,"h":3.1},{"s":"BASE","e":168,"v":3.3,"l":3.2,"h":3.4},{"s":"BASE","e":171,"v":2.9,"l":2.8,"h":3},{"s":"BASE","e":174,"v":2.4,"l":2.3,"h":2.5},{"s":"BASE","e":177,"v":3.1,"l":3,"h":3.2},{"s":"BASE","e":180,"v":2.1,"l":2,"h":2.2},{"s":"BASE","e":183,"v":3,"l":2.9,"h":3.1},{"s":"BASE","e":186,"v":3.4,"l":3.3,"h":3.5},{"s":"BASE","e":189,"v":3.2,"l":3.1,"h":3.3},{"s":"BASE","e":192,"v":2.7,"l":2.6,"h":2.8},{"s":"BASE","e":195,"v":3.5,"l":3.4,"h":3.6},{"s":"BASE","e":198,"v":4.3,"l":4.2,"h":4.4},{"s":"BASE","e":201,"v":3.1,"l":3,"h":3.2},{"s":"BASE","e":204,"v":3.6,"l":3.5,"h":3.7},{"s":"BASE","e":207,"v":2.9,"l":2.8,"h":3},{"s":"BASE","e":210,"v":3.2,"l":3.1,"h":3.3},{"s":"BASE","e":213,"v":3.8,"l":3.7,"h":3.9},{"s":"BASE","e":216,"v":3,"l":2.9,"h":3.1},{"s":"BASE","e":219,"v":3.5,"l":3.4,"h":3.6},{"s":"BASE","e":222,"v":5.3,"l":5.2,"h":5.4},{"s":"BASE","e":225,"v":3.4,"l":3.3,"h":3.5},{"s":"BASE","e":228,"v":3.2,"l":3.1,"h":3.3},
{"s":"QRT","e":0,"v":3.4,"l":3.3,"h":3.5},{"s":"QRT","e":3,"v":3.5,"l":3.4,"h":3.6},{"s":"QRT","e":6,"v":3.7,"l":3.6,"h":3.8},{"s":"QRT","e":9,"v":3.8,"l":3.7,"h":3.9},{"s":"QRT","e":12,"v":3.7,"l":3.6,"h":3.8},{"s":"QRT","e":15,"v":3.5,"l":3.4,"h":3.6},{"s":"QRT","e":18,"v":3.2,"l":3.1,"h":3.3},{"s":"QRT","e":21,"v":3,"l":2.8,"h":3.2},{"s":"QRT","e":24,"v":2.9,"l":2.7,"h":3.1},{"s":"QRT","e":27,"v":2.8,"l":2.6,"h":3},{"s":"QRT","e":30,"v":2.7,"l":2.5,"h":2.9},{"s":"QRT","e":33,"v":2.6,"l":2.4,"h":2.8},{"s":"QRT","e":36,"v":2.6,"l":2.4,"h":2.8},{"s":"QRT","e":39,"v":2.7,"l":2.5,"h":2.9},{"s":"QRT","e":42,"v":2.7,"l":2.5,"h":2.9},{"s":"QRT","e":45,"v":2.8,"l":2.6,"h":3},{"s":"QRT","e":48,"v":2.7,"l":2.5,"h":2.9},{"s":"QRT","e":51,"v":2.8,"l":2.6,"h":3},{"s":"QRT","e":54,"v":2.9,"l":2.7,"h":3.1},{"s":"QRT","e":57,"v":2.8,"l":2.6,"h":3},{"s":"QRT","e":60,"v":2.8,"l":2.6,"h":3},{"s":"QRT","e":63,"v":2.9,"l":2.7,"h":3.1},{"s":"QRT","e":66,"v":2.8,"l":2.6,"h":3},{"s":"QRT","e":69,"v":2.9,"l":2.7,"h":3.1},{"s":"QRT","e":72,"v":2.8,"l":2.6,"h":3},{"s":"QRT","e":75,"v":2.9,"l":2.7,"h":3.1},{"s":"QRT","e":78,"v":2.9,"l":2.7,"h":3.1},{"s":"QRT","e":81,"v":3,"l":2.8,"h":3.2},{"s":"QRT","e":84,"v":2.9,"l":2.7,"h":3.1},{"s":"QRT","e":87,"v":3,"l":2.8,"h":3.2},{"s":"QRT","e":90,"v":3,"l":2.8,"h":3.2},{"s":"QRT","e":93,"v":3,"l":2.8,"h":3.2},{"s":"QRT","e":96,"v":3.1,"l":2.9,"h":3.3},{"s":"QRT","e":99,"v":3.2,"l":3.12,"h":3.28},{"s":"QRT","e":102,"v":3.2,"l":3.12,"h":3.28},{"s":"QRT","e":105,"v":3.3,"l":3.22,"h":3.38},{"s":"QRT","e":110,"v":3.2,"l":3.12,"h":3.28},{"s":"QRT","e":115,"v":3.3,"l":3.22,"h":3.38},{"s":"QRT","e":120,"v":3.2,"l":3.12,"h":3.28},{"s":"QRT","e":125,"v":3.3,"l":3.22,"h":3.38},{"s":"QRT","e":130,"v":3.4,"l":3.32,"h":3.48},{"s":"QRT","e":135,"v":3.3,"l":3.22,"h":3.38},{"s":"QRT","e":140,"v":3.2,"l":3.12,"h":3.28},{"s":"QRT","e":145,"v":3.4,"l":3.32,"h":3.48},{"s":"QRT","e":150,"v":3.3,"l":3.22,"h":3.38},{"s":"QRT","e":155,"v":3.2,"l":3.12,"h":3.28},{"s":"QRT","e":160,"v":3.4,"l":3.32,"h":3.48},{"s":"QRT","e":165,"v":3.3,"l":3.22,"h":3.38},{"s":"QRT","e":170,"v":3.5,"l":3.42,"h":3.58},{"s":"QRT","e":175,"v":3.4,"l":3.32,"h":3.48},{"s":"QRT","e":180,"v":3.6,"l":3.52,"h":3.68},{"s":"QRT","e":185,"v":3.5,"l":3.42,"h":3.58},{"s":"QRT","e":190,"v":3.4,"l":3.32,"h":3.48},{"s":"QRT","e":195,"v":3.6,"l":3.52,"h":3.68},{"s":"QRT","e":200,"v":3.5,"l":3.42,"h":3.58},{"s":"QRT","e":205,"v":3.7,"l":3.62,"h":3.78},{"s":"QRT","e":210,"v":3.5,"l":3.42,"h":3.58},{"s":"QRT","e":215,"v":3.6,"l":3.52,"h":3.68},{"s":"QRT","e":220,"v":3.4,"l":3.32,"h":3.48},{"s":"QRT","e":225,"v":3.3,"l":3.22,"h":3.38},{"s":"QRT","e":230,"v":3.5,"l":3.42,"h":3.58},{"s":"QRT","e":235,"v":3.4,"l":3.32,"h":3.48},{"s":"QRT","e":240,"v":3.7,"l":3.62,"h":3.78}
],
"hr":[
{"p":1,"s":"BASE","v":-1.78},{"p":1,"s":"QRT","v":-2.52},
{"p":2,"s":"BASE","v":-1.75},{"p":2,"s":"QRT","v":-0.07},
{"p":3,"s":"BASE","v":0},{"p":3,"s":"QRT","v":-2.48},
{"p":4,"s":"BASE","v":0.0995},{"p":4,"s":"QRT","v":0.123},
{"p":5,"s":"BASE","v":-0.88},{"p":5,"s":"QRT","v":-1.06},
{"p":6,"s":"BASE","v":-0.86},{"p":6,"s":"QRT","v":-0.14},
{"p":7,"s":"BASE","v":0},{"p":7,"s":"QRT","v":-0.875},
{"p":8,"s":"BASE","v":3.18},{"p":8,"s":"QRT","v":3.18}
],
"vr":[
{"p":1,"s":"BASE","e":200},{"p":1,"s":"QRT","e":220},
{"p":2,"s":"BASE","e":200},{"p":2,"s":"QRT","e":220},
{"p":3,"s":"BASE","e":200},{"p":3,"s":"QRT","e":220},
{"p":4,"s":"BASE","e":200},{"p":4,"s":"QRT","e":220},
{"p":5,"s":"BASE","e":139},{"p":5,"s":"QRT","e":135},
{"p":6,"s":"BASE","e":136},{"p":6,"s":"QRT","e":133},
{"p":7,"s":"BASE","e":137},{"p":7,"s":"QRT","e":133},
{"p":8,"s":"BASE","e":138},{"p":8,"s":"QRT","e":134}
],
"st":[
{"p":1,"s":"QRC","e":199,"v":-1.98},{"p":1,"s":"QRTC","e":220,"v":-2.88},
{"p":4,"s":"QRC","e":201,"v":0.069},{"p":4,"s":"QRTC","e":222,"v":0.071},
{"p":5,"s":"QRC","e":139,"v":-0.93},{"p":5,"s":"QRTC","e":135,"v":-1.26},
{"p":8,"s":"QRC","e":139,"v":1.7},{"p":8,"s":"QRTC","e":136,"v":1.92}
]
},
"concat":[
{"width":127,"height":77,
 "title":{"text":"∑ᵢ₌₁ᴺ −log f′θ(Yᵢ | Xᵢ)"},
 "layer":[
  {"data":{"name":"d1"},"mark":{"type":"area","opacity":0.3,"clip":true},"encoding":{"x":{"field":"e","type":"quantitative","scale":{"domain":[-8,398],"nice":false,"zero":false},"axis":{"values":[0,100,200,300],"tickCount":20,"title":null}},"y":{"field":"l","type":"quantitative","scale":{"domain":[-3.07,1.8],"nice":false,"zero":false},"axis":{"values":[-3,-2,-1,0,1],"tickCount":20,"format":"d","title":["Metric value on","dataset YAC"],"titleLineHeight":15}},"y2":{"field":"h"},"color":{"field":"s","type":"nominal","scale":{"domain":["BASE","QRC","QRT","QRTC"],"range":["#ff7f0e","#ff7f0e","#1f77b4","#1f77b4"]}}}},
  {"data":{"name":"d1"},"mark":{"type":"line","strokeWidth":1.1,"clip":true},"encoding":{"x":{"field":"e","type":"quantitative"},"y":{"field":"v","type":"quantitative"},"color":{"field":"s","type":"nominal"}}},
  {"data":{"name":"hr"},"transform":[{"filter":"datum.p==1"}],"mark":{"type":"rule","strokeDash":[3,2],"strokeWidth":0.9},"encoding":{"y":{"field":"v","type":"quantitative"},"color":{"field":"s","type":"nominal"}}},
  {"data":{"name":"vr"},"transform":[{"filter":"datum.p==1"}],"mark":{"type":"rule","strokeDash":[3,2],"strokeWidth":0.9},"encoding":{"x":{"field":"e","type":"quantitative"},"color":{"field":"s","type":"nominal"}}},
  {"data":{"name":"st"},"transform":[{"filter":"datum.p==1"}],"mark":{"type":"point","filled":true,"opacity":1,"size":650,"stroke":"#444","strokeWidth":0.6},"encoding":{"x":{"field":"e","type":"quantitative"},"y":{"field":"v","type":"quantitative"},
   "color":{"field":"s","type":"nominal","legend":{"title":null,"orient":"none","legendX":61,"legendY":213,"direction":"horizontal","columns":4,"symbolSize":441,"symbolOpacity":1,"labelFont":"Liberation Serif","labelFontSize":11,"labelColor":"#000","labelOffset":8,"columnPadding":17,"padding":4.5,"strokeColor":"#cccccc","cornerRadius":3,"fillColor":"white","encode":{"labels":{"fontWeight":{"value":{"expr":"datum.label === 'QRTC' ? 'bold' : 'normal'"}}},"symbols":{"opacity":{"value":1},"fillOpacity":{"value":1},"strokeWidth":{"value":0},"strokeDash":{"value":[1,0]}}}}},
   "shape":{"field":"s","type":"nominal","scale":{"domain":["BASE","QRC","QRT","QRTC"],"range":["M-1,-0.06L1,-0.06L1,0.06L-1,0.06Z","M0,-0.35L0.082,-0.113L0.333,-0.108L0.133,0.043L0.206,0.283L0,0.14L-0.206,0.283L-0.133,0.043L-0.333,-0.108L-0.082,-0.113Z","M-1,-0.06L1,-0.06L1,0.06L-1,0.06Z","M0,-0.35L0.082,-0.113L0.333,-0.108L0.133,0.043L0.206,0.283L0,0.14L-0.206,0.283L-0.133,0.043L-0.333,-0.108L-0.082,-0.113Z"]},"legend":{"title":null,"orient":"none","legendX":61,"legendY":213,"direction":"horizontal","columns":4,"symbolSize":441,"symbolOpacity":1,"labelFont":"Liberation Serif","labelFontSize":11,"labelColor":"#000","labelOffset":8,"columnPadding":17,"padding":4.5,"strokeColor":"#cccccc","cornerRadius":3,"fillColor":"white","encode":{"labels":{"fontWeight":{"value":{"expr":"datum.label === 'QRTC' ? 'bold' : 'normal'"}}},"symbols":{"opacity":{"value":1},"fillOpacity":{"value":1},"strokeWidth":{"value":0},"strokeDash":{"value":[1,0]}}}}}}}
 ]},
{"width":127,"height":77,
 "title":{"text":"=\u2003\u2003∑ᵢ₌₁ᴺ −log fθ(Yᵢ | Xᵢ)","anchor":"start","dx":-25},
 "layer":[
  {"data":{"name":"d2"},"mark":{"type":"area","opacity":0.3,"clip":true},"encoding":{"x":{"field":"e","type":"quantitative","scale":{"domain":[-8,398],"nice":false,"zero":false},"axis":{"values":[0,100,200,300],"tickCount":20,"title":null}},"y":{"field":"l","type":"quantitative","scale":{"domain":[-2.12,1.73],"nice":false,"zero":false},"axis":{"values":[-2,-1,0,1],"tickCount":20,"format":"d","title":null}},"y2":{"field":"h"},"color":{"field":"s","type":"nominal"}}},
  {"data":{"name":"d2"},"mark":{"type":"line","strokeWidth":1.1,"clip":true},"encoding":{"x":{"field":"e","type":"quantitative"},"y":{"field":"v","type":"quantitative"},"color":{"field":"s","type":"nominal"}}},
  {"data":{"name":"hr"},"transform":[{"filter":"datum.p==2"}],"mark":{"type":"rule","strokeDash":[3,2],"strokeWidth":0.9},"encoding":{"y":{"field":"v","type":"quantitative"},"color":{"field":"s","type":"nominal"}}},
  {"data":{"name":"vr"},"transform":[{"filter":"datum.p==2"}],"mark":{"type":"rule","strokeDash":[3,2],"strokeWidth":0.9},"encoding":{"x":{"field":"e","type":"quantitative"},"color":{"field":"s","type":"nominal"}}}
 ]},
{"width":127,"height":77,
 "title":{"text":"+\u2003\u2003\u2003\u2003\u2003αĤ(Z)","anchor":"start","dx":-27},
 "layer":[
  {"data":{"name":"d3"},"mark":{"type":"area","opacity":0.3,"clip":true},"encoding":{"x":{"field":"e","type":"quantitative","scale":{"domain":[-8,398],"nice":false,"zero":false},"axis":{"values":[0,100,200,300],"tickCount":20,"title":null}},"y":{"field":"l","type":"quantitative","scale":{"domain":[-2.63,0.13],"nice":false,"zero":false},"axis":{"values":[-2,-1,0],"tickCount":20,"format":"d","title":null}},"y2":{"field":"h"},"color":{"field":"s","type":"nominal"}}},
  {"data":{"name":"d3"},"mark":{"type":"line","strokeWidth":1.1,"clip":true},"encoding":{"x":{"field":"e","type":"quantitative"},"y":{"field":"v","type":"quantitative"},"color":{"field":"s","type":"nominal"}}},
  {"data":{"name":"hr"},"transform":[{"filter":"datum.p==3"}],"mark":{"type":"rule","strokeDash":[3,2],"strokeWidth":0.9},"encoding":{"y":{"field":"v","type":"quantitative"},"color":{"field":"s","type":"nominal"}}},
  {"data":{"name":"vr"},"transform":[{"filter":"datum.p==3"}],"mark":{"type":"rule","strokeDash":[3,2],"strokeWidth":0.9},"encoding":{"x":{"field":"e","type":"quantitative"},"color":{"field":"s","type":"nominal"}}}
 ]},
{"width":127,"height":77,
 "title":{"text":"PCE(F′θ)"},
 "layer":[
  {"data":{"name":"d4"},"mark":{"type":"area","opacity":0.3,"clip":true},"encoding":{"x":{"field":"e","type":"quantitative","scale":{"domain":[-8,398],"nice":false,"zero":false},"axis":{"values":[0,100,200,300],"tickCount":20,"title":null}},"y":{"field":"l","type":"quantitative","scale":{"domain":[0.043,0.197],"nice":false,"zero":false},"axis":{"values":[0.05,0.1,0.15],"tickCount":20,"format":".2f","title":null}},"y2":{"field":"h"},"color":{"field":"s","type":"nominal"}}},
  {"data":{"name":"d4"},"mark":{"type":"line","strokeWidth":1.1,"clip":true},"encoding":{"x":{"field":"e","type":"quantitative"},"y":{"field":"v","type":"quantitative"},"color":{"field":"s","type":"nominal"}}},
  {"data":{"name":"hr"},"transform":[{"filter":"datum.p==4"}],"mark":{"type":"rule","strokeDash":[3,2],"strokeWidth":0.9},"encoding":{"y":{"field":"v","type":"quantitative"},"color":{"field":"s","type":"nominal"}}},
  {"data":{"name":"vr"},"transform":[{"filter":"datum.p==4"}],"mark":{"type":"rule","strokeDash":[3,2],"strokeWidth":0.9},"encoding":{"x":{"field":"e","type":"quantitative"},"color":{"field":"s","type":"nominal"}}},
  {"data":{"name":"st"},"transform":[{"filter":"datum.p==4"}],"mark":{"type":"point","filled":true,"opacity":1,"size":650,"stroke":"#444","strokeWidth":0.6},"encoding":{"x":{"field":"e","type":"quantitative"},"y":{"field":"v","type":"quantitative"},"color":{"field":"s","type":"nominal"},"shape":{"field":"s","type":"nominal"}}}
 ]},
{"width":127,"height":77,
 "layer":[
  {"data":{"name":"d5"},"mark":{"type":"area","opacity":0.3,"clip":true},"encoding":{"x":{"field":"e","type":"quantitative","scale":{"domain":[-2,244],"nice":false,"zero":false},"axis":{"values":[0,50,100,150,200],"tickCount":20,"title":"Epoch"}},"y":{"field":"l","type":"quantitative","scale":{"domain":[-1.36,0.56],"nice":false,"zero":false},"axis":{"values":[-1,-0.5,0,0.5],"tickCount":20,"format":".1f","title":["Metric value on","dataset NYC"],"titleLineHeight":15}},"y2":{"field":"h"},"color":{"field":"s","type":"nominal"}}},
  {"data":{"name":"d5"},"mark":{"type":"line","strokeWidth":1.1,"clip":true},"encoding":{"x":{"field":"e","type":"quantitative"},"y":{"field":"v","type":"quantitative"},"color":{"field":"s","type":"nominal"}}},
  {"data":{"name":"hr"},"transform":[{"filter":"datum.p==5"}],"mark":{"type":"rule","strokeDash":[3,2],"strokeWidth":0.9},"encoding":{"y":{"field":"v","type":"quantitative"},"color":{"field":"s","type":"nominal"}}},
  {"data":{"name":"vr"},"transform":[{"filter":"datum.p==5"}],"mark":{"type":"rule","strokeDash":[3,2],"strokeWidth":0.9},"encoding":{"x":{"field":"e","type":"quantitative"},"color":{"field":"s","type":"nominal"}}},
  {"data":{"name":"st"},"transform":[{"filter":"datum.p==5"}],"mark":{"type":"point","filled":true,"opacity":1,"size":650,"stroke":"#444","strokeWidth":0.6},"encoding":{"x":{"field":"e","type":"quantitative"},"y":{"field":"v","type":"quantitative"},"color":{"field":"s","type":"nominal"},"shape":{"field":"s","type":"nominal"}}}
 ]},
{"width":127,"height":77,
 "layer":[
  {"data":{"name":"d6"},"mark":{"type":"area","opacity":0.3,"clip":true},"encoding":{"x":{"field":"e","type":"quantitative","scale":{"domain":[-2,244],"nice":false,"zero":false},"axis":{"values":[0,50,100,150,200],"tickCount":20,"title":"Epoch"}},"y":{"field":"l","type":"quantitative","scale":{"domain":[-1.02,1.41],"nice":false,"zero":false},"axis":{"values":[-1,-0.5,0,0.5,1],"tickCount":20,"format":".1f","title":null}},"y2":{"field":"h"},"color":{"field":"s","type":"nominal"}}},
  {"data":{"name":"d6"},"mark":{"type":"line","strokeWidth":1.1,"clip":true},"encoding":{"x":{"field":"e","type":"quantitative"},"y":{"field":"v","type":"quantitative"},"color":{"field":"s","type":"nominal"}}},
  {"data":{"name":"hr"},"transform":[{"filter":"datum.p==6"}],"mark":{"type":"rule","strokeDash":[3,2],"strokeWidth":0.9},"encoding":{"y":{"field":"v","type":"quantitative"},"color":{"field":"s","type":"nominal"}}},
  {"data":{"name":"vr"},"transform":[{"filter":"datum.p==6"}],"mark":{"type":"rule","strokeDash":[3,2],"strokeWidth":0.9},"encoding":{"x":{"field":"e","type":"quantitative"},"color":{"field":"s","type":"nominal"}}}
 ]},
{"width":127,"height":77,
 "layer":[
  {"data":{"name":"d7"},"mark":{"type":"area","opacity":0.3,"clip":true},"encoding":{"x":{"field":"e","type":"quantitative","scale":{"domain":[-2,244],"nice":false,"zero":false},"axis":{"values":[0,50,100,150,200],"tickCount":20,"title":"Epoch"}},"y":{"field":"l","type":"quantitative","scale":{"domain":[-1.19,0.054],"nice":false,"zero":false},"axis":{"values":[-1,-0.5,0],"tickCount":20,"format":".1f","title":null}},"y2":{"field":"h"},"color":{"field":"s","type":"nominal"}}},
  {"data":{"name":"d7"},"mark":{"type":"line","strokeWidth":1.1,"clip":true},"encoding":{"x":{"field":"e","type":"quantitative"},"y":{"field":"v","type":"quantitative"},"color":{"field":"s","type":"nominal"}}},
  {"data":{"name":"hr"},"transform":[{"filter":"datum.p==7"}],"mark":{"type":"rule","strokeDash":[3,2],"strokeWidth":0.9},"encoding":{"y":{"field":"v","type":"quantitative"},"color":{"field":"s","type":"nominal"}}},
  {"data":{"name":"vr"},"transform":[{"filter":"datum.p==7"}],"mark":{"type":"rule","strokeDash":[3,2],"strokeWidth":0.9},"encoding":{"x":{"field":"e","type":"quantitative"},"color":{"field":"s","type":"nominal"}}}
 ]},
{"width":127,"height":77,
 "layer":[
  {"data":{"name":"d8"},"mark":{"type":"area","opacity":0.3,"clip":true},"encoding":{"x":{"field":"e","type":"quantitative","scale":{"domain":[-2,244],"nice":false,"zero":false},"axis":{"values":[0,50,100,150,200],"tickCount":20,"title":"Epoch"}},"y":{"field":"l","type":"quantitative","scale":{"domain":[1.58,5.42],"nice":false,"zero":false},"axis":{"values":[2,3,4,5],"tickCount":20,"format":"d","title":"×10⁻²","titleAngle":0,"titleX":0,"titleY":-5,"titleAlign":"left","titleBaseline":"middle","titleFontSize":7}},"y2":{"field":"h"},"color":{"field":"s","type":"nominal"}}},
  {"data":{"name":"d8"},"mark":{"type":"line","strokeWidth":1.1,"clip":true},"encoding":{"x":{"field":"e","type":"quantitative"},"y":{"field":"v","type":"quantitative"},"color":{"field":"s","type":"nominal"}}},
  {"data":{"name":"hr"},"transform":[{"filter":"datum.p==8"}],"mark":{"type":"rule","strokeDash":[3,2],"strokeWidth":0.9},"encoding":{"y":{"field":"v","type":"quantitative"},"color":{"field":"s","type":"nominal"}}},
  {"data":{"name":"vr"},"transform":[{"filter":"datum.p==8"}],"mark":{"type":"rule","strokeDash":[3,2],"strokeWidth":0.9},"encoding":{"x":{"field":"e","type":"quantitative"},"color":{"field":"s","type":"nominal"}}},
  {"data":{"name":"st"},"transform":[{"filter":"datum.p==8"}],"mark":{"type":"point","filled":true,"opacity":1,"size":650,"stroke":"#444","strokeWidth":0.6},"encoding":{"x":{"field":"e","type":"quantitative"},"y":{"field":"v","type":"quantitative"},"color":{"field":"s","type":"nominal"},"shape":{"field":"s","type":"nominal"}}}
 ]}
]
}
